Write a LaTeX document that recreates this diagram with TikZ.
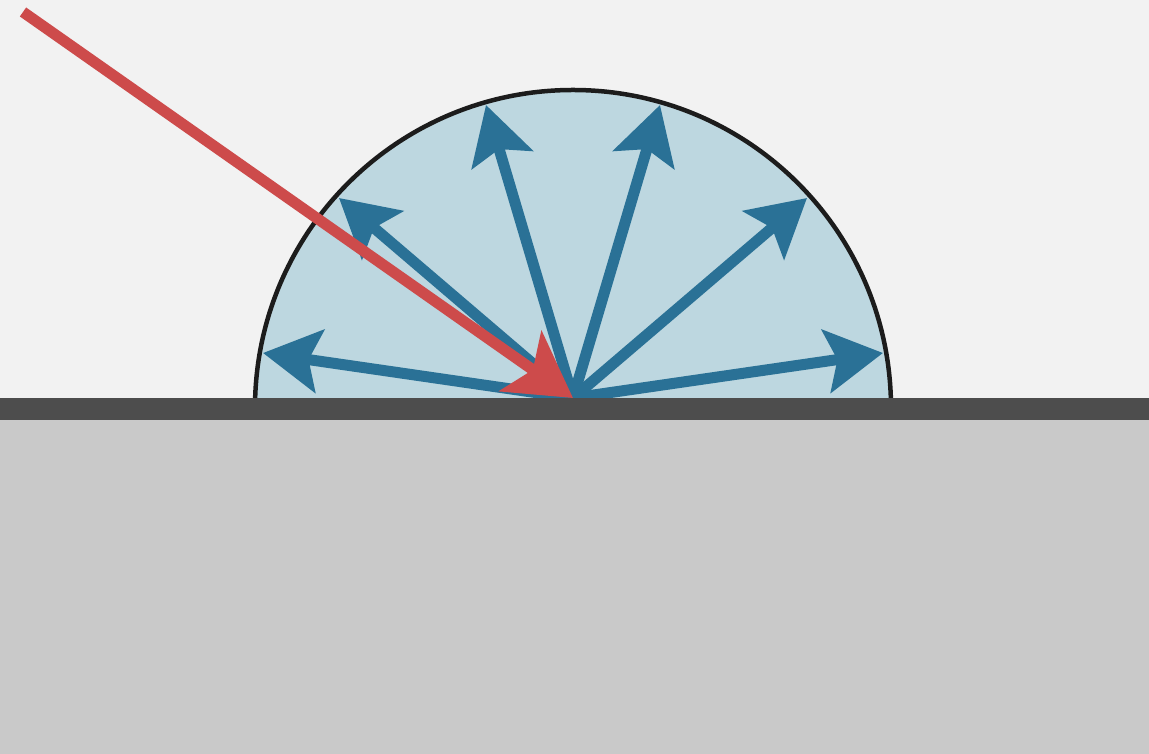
\documentclass[tikz,border=0pt]{standalone}
\usetikzlibrary{arrows.meta}
\definecolor{bgc}{HTML}{F2F2F2}
\definecolor{groundc}{HTML}{C9C9C9}
\definecolor{bandc}{HTML}{4D4D4D}
\definecolor{domefill}{HTML}{BDD7E0}
\definecolor{domeline}{HTML}{1C1C1C}
\definecolor{rayblue}{HTML}{2A7196}
\definecolor{rayred}{HTML}{CD4B4B}
\begin{document}
\begin{tikzpicture}[x=1pt,y=1pt,
  reflected/.style={line width=11pt, draw=rayblue, -{Stealth[length=57pt,width=63pt,inset=11pt]}},
  incident/.style={line width=11pt, draw=rayred, -{Stealth[length=64pt,width=73pt,inset=15pt]}},
  dome/.style={fill=domefill, draw=domeline, line width=4.5pt}]
  \useasboundingbox (0,0) rectangle (1149,754);
  \fill[bgc] (0,0) rectangle (1149,754);
  \fill[groundc] (0,0) rectangle (1149,334);
  % hemisphere
  \coordinate (C) at (573,346);
  \draw[dome] (891,346) arc[start angle=0, end angle=180, radius=318pt] -- cycle;
  % reflected rays
  \coordinate (O) at (573,356);
  \coordinate (t1) at (263,401);
  \coordinate (t2) at (339,556);
  \coordinate (t3) at (486,649);
  \coordinate (t4) at (660,649);
  \coordinate (t5) at (807,556);
  \coordinate (t6) at (883,401);
  \foreach \t in {t1,t2,t3,t4,t5,t6} \draw[reflected] (O) -- (\t);
  % surface band
  \fill[bandc] (0,334) rectangle (1149,356);
  % incident ray
  \coordinate (S) at (23,742);
  \draw[incident] (S) -- (O);
\end{tikzpicture}
\end{document}
